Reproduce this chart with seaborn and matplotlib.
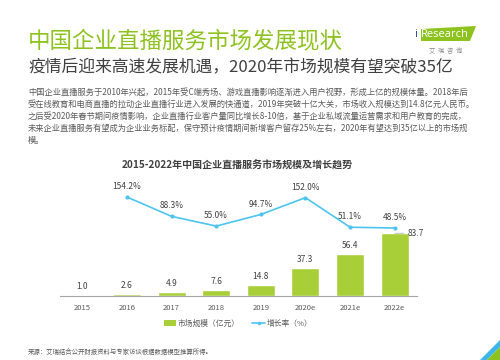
import matplotlib
matplotlib.use('Agg')
import matplotlib.pyplot as plt
import seaborn as sns
from matplotlib.patches import Patch, Polygon
from matplotlib.lines import Line2D

# Datos del grafico
years = ['2015', '2016', '2017', '2018', '2019', '2020e', '2021e', '2022e']
market = [1.0, 2.6, 4.9, 7.6, 14.8, 37.3, 56.4, 83.7]
growth_years = ['2016', '2017', '2018', '2019', '2020e', '2021e', '2022e']
growth = [154.2, 88.3, 55.0, 94.7, 152.0, 51.1, 48.5]

title = '中国企业直播服务市场发展现状'
subtitle = '疫情后迎来高速发展机遇，2020年市场规模有望突破35亿'
paragraph = [
    '中国企业直播服务于2010年兴起，2015年受C端秀场、游戏直播影响逐渐进入用户视野，形成上亿的规模体量。2018年后',
    '受在线教育和电商直播的拉动企业直播行业进入发展的快通道，2019年突破十亿大关，市场收入规模达到14.8亿元人民币。',
    '之后受2020年春节期间疫情影响，企业直播行业客户量同比增长8-10倍，基于企业私域流量运营需求和用户教育的完成，',
    '未来企业直播服务有望成为企业业务标配，保守预计疫情期间新增客户留存25%左右，2020年有望达到35亿以上的市场规',
    '模。',
]
chart_title = '2015-2022年中国企业直播服务市场规模及增长趋势'
legend_labels = ['市场规模（亿元）', '增长率（%）']
source = '来源：艾瑞结合公开财报资料与专家访谈根据数据模型推算所得。'

GREEN_TITLE = '#8DC21F'
GREEN_BAR = '#A8CF38'
BLUE_LINE = '#4DC4F0'
DARK = '#404040'
GRAY = '#595959'

sns.set_style('white')
plt.rcParams['font.family'] = ['Noto Sans CJK SC', 'DejaVu Sans']

fig = plt.figure(figsize=(5, 3.6), dpi=100)
H = 360.0

def fy(px):
    return 1 - px / H

# Encabezados
fig.text(0.056, fy(41), title, fontsize=16.2, color=GREEN_TITLE, va='center')
fig.text(0.056, fy(68), subtitle, fontsize=12.1, color=DARK, va='center')
for i, line in enumerate(paragraph):
    fig.text(0.056, fy(92.5 + i * 12), line, fontsize=5.95, color=GRAY, va='center')
fig.text(0.475, fy(166), chart_title, fontsize=7.2, fontweight='bold', color=DARK,
         ha='center', va='center')
fig.text(0.056, fy(352), source, fontsize=4.6, color=GRAY, va='center')

# Logo iResearch
fig.patches.append(Polygon([(421 / 500, fy(41)), (421 / 500, fy(29)), (476 / 500, fy(26)),
                            (470 / 500, fy(41))], closed=True, transform=fig.transFigure,
                           facecolor=GREEN_TITLE, edgecolor='none'))
fig.text(414 / 500, fy(34.5), 'i', fontsize=8, color='#1F4E8C', va='center', family='Open Sans')
fig.text(421 / 500, fy(34.5), 'Research', fontsize=8, color='white', va='center', family='Open Sans')
fig.text(446 / 500, fy(51), '艾  瑞  咨  询', fontsize=4.5, color='#888888', ha='center', va='center')

# Decoracion esquina inferior derecha
fig.patches.append(Polygon([(480 / 500, 0), (500 / 500, fy(340)), (500 / 500, fy(347)),
                            (487 / 500, 0)], closed=True, transform=fig.transFigure,
                           facecolor='#3FB6E8', edgecolor='none'))
fig.patches.append(Polygon([(487 / 500, 0), (500 / 500, fy(347)), (500 / 500, 0)],
                           closed=True, transform=fig.transFigure,
                           facecolor=GREEN_TITLE, edgecolor='none'))

# Grafica: barras + linea
ax = fig.add_axes([60 / 500, 1 - 296 / H, 357 / 500, 106 / H])
sns.barplot(x=years, y=market, color=GREEN_BAR, saturation=1, width=0.63, ax=ax)
ax.set_ylim(0, 106 / 0.75)
ax.set_xlim(-0.5, len(years) - 0.5)
ax.set_yticks([])
ax.set_ylabel('')
for s in ['top', 'left', 'right']:
    ax.spines[s].set_visible(False)
ax.spines['bottom'].set_color('#A6A6A6')
ax.spines['bottom'].set_linewidth(0.8)
ax.tick_params(axis='x', length=0, pad=5.5, labelsize=5.5, labelcolor=GRAY)

for i, v in enumerate(market):
    if i == len(market) - 1:
        ax.annotate(f'{v:.1f}', (i, v), xytext=(9, 0), textcoords='offset points',
                    fontsize=6, color=DARK, ha='left', va='center',
                    arrowprops=dict(arrowstyle='-', color='#A6A6A6', lw=0.5,
                                    shrinkA=0, shrinkB=0))
    else:
        ax.annotate(f'{v:.1f}', (i, v), xytext=(0, 6), textcoords='offset points',
                    fontsize=6, color=DARK, ha='center', va='center')

ax2 = ax.twinx()
gx = [years.index(y) for y in growth_years]
sns.lineplot(x=gx, y=growth, color=BLUE_LINE, linewidth=1.2, marker='o', markersize=3,
             markeredgewidth=0, ax=ax2)
ax2.set_ylim(48.5 - 68 / 0.293, 48.5 + 38 / 0.293)
ax2.set_yticks([])
ax2.set_ylabel('')
for s in ['top', 'left', 'right', 'bottom']:
    ax2.spines[s].set_visible(False)
for x, v in zip(gx, growth):
    ax2.annotate(f'{v:.1f}%', (x, v), xytext=(0, 7.5), textcoords='offset points',
                 fontsize=6, color=DARK, ha='center', va='center')

handles = [Patch(facecolor=GREEN_BAR, edgecolor='none'),
           Line2D([0], [0], color=BLUE_LINE, lw=1.2, marker='o', markersize=2.5,
                  markeredgewidth=0)]
fig.legend(handles, legend_labels, loc='center', bbox_to_anchor=(0.476, fy(324)),
           ncol=2, frameon=False, fontsize=5.6, handlelength=1.6, handleheight=0.8,
           columnspacing=1.6, handletextpad=0.2, labelcolor=GRAY)

fig.savefig('out.png', dpi=100)
plt.close(fig)
